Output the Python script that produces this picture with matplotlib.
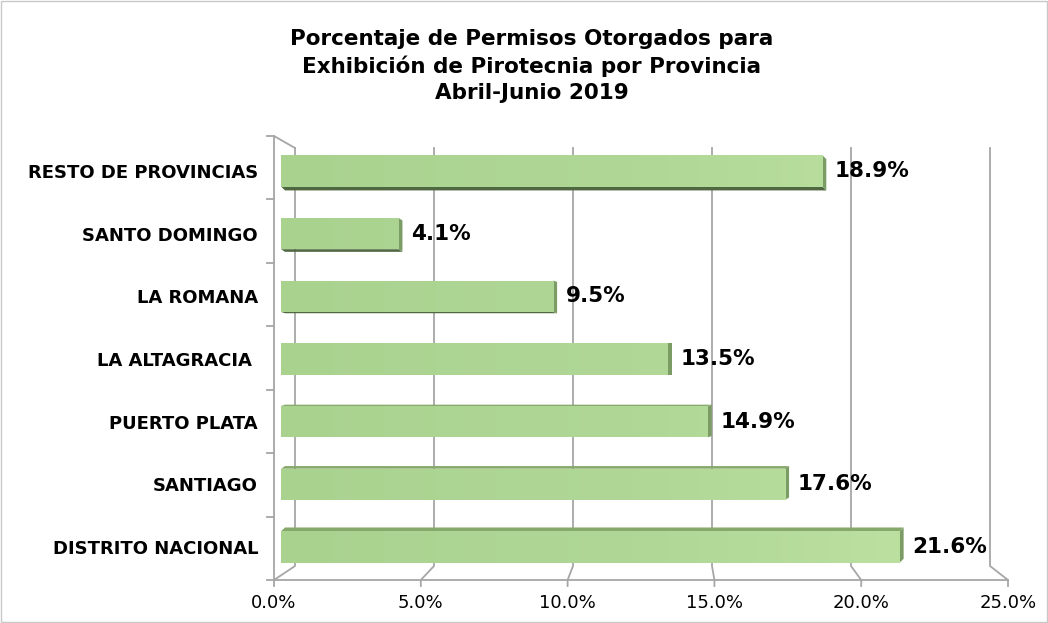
import numpy as np
import matplotlib.pyplot as plt
from matplotlib.colors import LinearSegmentedColormap
from matplotlib.patches import Rectangle, Polygon

# Datos (de abajo hacia arriba)
provincias = ["DISTRITO NACIONAL", "SANTIAGO", "PUERTO PLATA", "LA ALTAGRACIA ",
              "LA ROMANA", "SANTO DOMINGO", "RESTO DE PROVINCIAS"]
porcentajes = [21.6, 17.6, 14.9, 13.5, 9.5, 4.1, 18.9]
ticks_x = [0, 5, 10, 15, 20, 25]
titulo = "Porcentaje de Permisos Otorgados para\nExhibición de Pirotecnia por Provincia\nAbril-Junio 2019"

W, H = 1048, 623
fig = plt.figure(figsize=(W / 100, H / 100), dpi=100)

# capa de fondo en pixeles para las paredes 3D
bg = fig.add_axes([0, 0, 1, 1])
bg.set_xlim(0, W)
bg.set_ylim(H, 0)
bg.axis("off")
bg.add_patch(Rectangle((0.5, 0.5), W - 1.5, H - 1.5, fill=False, ec="#c8c8c8", lw=1))

gris = "#a6a6a6"
frente = lambda v: 274 + 29.36 * v
fondo = lambda v: 295 + 27.8 * v
for v in ticks_x:
    bg.plot([fondo(v), fondo(v), frente(v), frente(v)], [148, 566, 580, 586], color=gris, lw=1.3)
    bg.text(frente(v), 603, f"{v:.1f}%", ha="center", va="center", fontsize=13)
bg.plot([frente(0), frente(25)], [580, 580], color=gris, lw=1.3)
bg.plot([274, 274, 295], [580, 136, 148], color=gris, lw=1.3)
for k in range(8):
    y = 136 + 444 / 7 * k
    bg.plot([267, 274], [y, y], color=gris, lw=1.3)

bg.text(532, 66, titulo, ha="center", va="center", fontsize=15.5,
        fontweight="bold", linespacing=1.38)

# ejes de las barras
ax = fig.add_axes([281 / W, 1 - 578.4 / H, 716 / W, 438.9 / H])
ax.set_xlim(0, 25)
ax.set_ylim(-0.5, 6.5)
ax.patch.set_alpha(0)
for s in ax.spines.values():
    s.set_visible(False)
ax.set_xticks([])

cmap = LinearSegmentedColormap.from_list("verde", ["#aad28f", "#b0d796", "#bfe3a3"])
grad = np.linspace(0, 1, 256).reshape(1, -1)
alto = 0.5
dx = 4 / 28.6
for i, v in enumerate(porcentajes):
    y0 = i - alto / 2
    dy = (3 - i) * 1.3 / 62.7
    # cara superior / inferior
    if dy > 0:
        ax.add_patch(Polygon([(0, y0 + alto), (dx, y0 + alto + dy), (v + dx, y0 + alto + dy), (v, y0 + alto)],
                             closed=True, fc="#86a86a", ec="none", zorder=2))
    elif dy < 0:
        ax.add_patch(Polygon([(0, y0), (dx, y0 + dy), (v + dx, y0 + dy), (v, y0)],
                             closed=True, fc="#4f6841", ec="none", zorder=2))
    # cara lateral derecha
    ax.add_patch(Polygon([(v, y0), (v + dx, y0 + dy), (v + dx, y0 + alto + dy), (v, y0 + alto)],
                         closed=True, fc="#7c9c66", ec="none", zorder=2))
    barra = ax.barh(i, v, height=alto, color="#b0d797", zorder=3)[0]
    img = ax.imshow(grad, cmap=cmap, aspect="auto", extent=(0, 25, y0, y0 + alto),
                    zorder=3.5, vmin=0, vmax=1)
    img.set_clip_path(barra)
    ax.text(v + dx + 0.3, i, f"{v}%", va="center", ha="left", fontsize=15.5,
            fontweight="bold", zorder=5)

ax.set_xlim(0, 25)
ax.set_ylim(-0.5, 6.5)
ax.set_yticks(range(len(provincias)), provincias, fontsize=13, fontweight="bold")
ax.tick_params(axis="y", length=0, pad=16.5)

fig.savefig("out.png", dpi=100)
